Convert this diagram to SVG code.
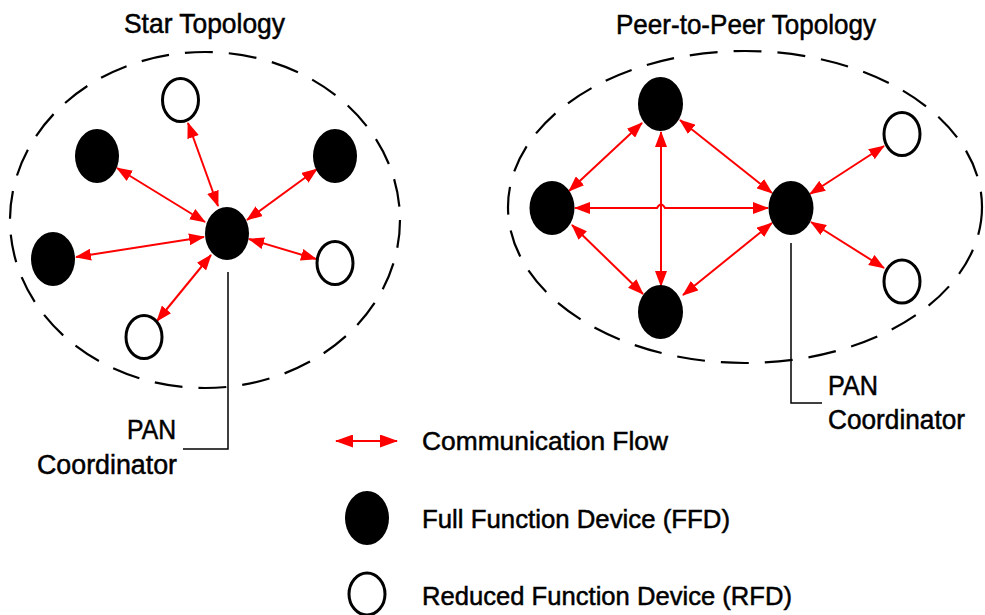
<svg xmlns="http://www.w3.org/2000/svg" width="985" height="615" viewBox="0 0 985 615">
  <style>
    .txt { font-family: "Liberation Sans", Arial, sans-serif; fill: #000; stroke: #000; stroke-width: 0.5; }
    .title { font-size: 28px; }
    .lbl { font-size: 27px; }
    .leg { font-size: 26px; }
    .zone { fill: none; stroke: #000; stroke-width: 2.2; stroke-dasharray: 28 16; }
    .ffd { fill: #000; }
    .rfd { fill: #fff; stroke: #000; stroke-width: 3; }
    .flow { fill: none; stroke: #f00; stroke-width: 2; marker-start: url(#head); marker-end: url(#head); }
    .leader { fill: none; stroke: #000; stroke-width: 1.5; }
  </style>
  <defs>
    <marker id="head" viewBox="0 0 16 12" refX="15" refY="6" markerWidth="16" markerHeight="12" markerUnits="userSpaceOnUse" orient="auto-start-reverse">
      <path d="M0,0 L16,6 L0,12 z" fill="#f00"/>
    </marker>
    <marker id="headLg" viewBox="0 0 18 13" refX="17" refY="6.5" markerWidth="18" markerHeight="13" markerUnits="userSpaceOnUse" orient="auto-start-reverse">
      <path d="M0,0 L18,6.5 L0,13 z" fill="#f00"/>
    </marker>
  </defs>
  <rect width="985" height="615" fill="#fff"/>

  <!-- titles -->
  <text class="txt title" x="124" y="33" textLength="161" lengthAdjust="spacingAndGlyphs">Star Topology</text>
  <text class="txt title" x="616" y="34" textLength="260" lengthAdjust="spacingAndGlyphs">Peer-to-Peer Topology</text>

  <!-- network boundaries -->
  <ellipse class="zone" cx="205" cy="220" rx="195" ry="168"/>
  <ellipse class="zone" cx="745" cy="207" rx="237" ry="156"/>

  <!-- communication links -->
  <g id="connectors">
    <!-- star -->
    <line class="flow" x1="188" y1="123" x2="218" y2="206"/>
    <line class="flow" x1="117" y1="168" x2="205" y2="222"/>
    <line class="flow" x1="317" y1="169" x2="247" y2="220"/>
    <line class="flow" x1="76" y1="257" x2="204" y2="237"/>
    <line class="flow" x1="316" y1="259" x2="249" y2="239"/>
    <line class="flow" x1="157" y1="321" x2="211" y2="255"/>
    <!-- peer-to-peer -->
    <line class="flow" x1="642" y1="123" x2="569" y2="191"/>
    <line class="flow" x1="680" y1="120" x2="772" y2="193"/>
    <line class="flow" x1="661" y1="132" x2="661" y2="286"/>
    <path class="flow" d="M575,208 L657,208 Q661,201 665,208 L768,208"/>
    <line class="flow" x1="572" y1="225" x2="643" y2="294"/>
    <line class="flow" x1="772" y1="223" x2="683" y2="295"/>
    <line class="flow" x1="884" y1="146" x2="810" y2="194"/>
    <line class="flow" x1="884" y1="268" x2="811" y2="222"/>
    <!-- coordinator leaders -->
    <polyline class="leader" points="228,272 228,449 183,449"/>
    <polyline class="leader" points="791,243 791,403 822,403"/>
  </g>

  <!-- star topology devices -->
  <g id="star-coordinator"><ellipse class="ffd" cx="227" cy="233.5" rx="22" ry="26.5"/></g>
  <g id="star-ffd-upper-left"><ellipse class="ffd" cx="97" cy="156" rx="22" ry="27"/></g>
  <g id="star-ffd-upper-right"><ellipse class="ffd" cx="335" cy="156" rx="22" ry="27"/></g>
  <g id="star-ffd-left"><ellipse class="ffd" cx="53" cy="259" rx="22" ry="27"/></g>
  <g id="star-rfd-top"><ellipse class="rfd" cx="180.5" cy="100" rx="18" ry="21.5"/></g>
  <g id="star-rfd-right"><ellipse class="rfd" cx="335" cy="263" rx="18" ry="21.5"/></g>
  <g id="star-rfd-bottom"><ellipse class="rfd" cx="144" cy="337" rx="18" ry="21.5"/></g>

  <!-- peer-to-peer devices -->
  <g id="p2p-ffd-top"><ellipse class="ffd" cx="660.5" cy="104" rx="22.5" ry="27"/></g>
  <g id="p2p-ffd-left"><ellipse class="ffd" cx="552" cy="208" rx="22.5" ry="27"/></g>
  <g id="p2p-ffd-bottom"><ellipse class="ffd" cx="660.5" cy="312" rx="22.5" ry="27"/></g>
  <g id="p2p-coordinator"><ellipse class="ffd" cx="791" cy="208" rx="22.5" ry="27"/></g>
  <g id="p2p-rfd-top"><ellipse class="rfd" cx="902" cy="134" rx="18" ry="21.5"/></g>
  <g id="p2p-rfd-bottom"><ellipse class="rfd" cx="902" cy="281.5" rx="18" ry="21.5"/></g>

  <!-- coordinator labels -->
  <g id="star-coordinator-label">
    <text class="txt lbl" x="127" y="439" textLength="49" lengthAdjust="spacingAndGlyphs">PAN</text>
    <text class="txt lbl" x="37" y="474" textLength="140" lengthAdjust="spacingAndGlyphs">Coordinator</text>
  </g>
  <g id="p2p-coordinator-label">
    <text class="txt lbl" x="828" y="395" textLength="50" lengthAdjust="spacingAndGlyphs">PAN</text>
    <text class="txt lbl" x="828" y="429" textLength="137" lengthAdjust="spacingAndGlyphs">Coordinator</text>
  </g>

  <!-- legend -->
  <g id="legend">
    <line x1="336" y1="441" x2="397" y2="441" stroke="#f00" stroke-width="2" marker-start="url(#headLg)" marker-end="url(#headLg)"/>
    <text class="txt leg" x="422" y="450" textLength="246" lengthAdjust="spacingAndGlyphs">Communication Flow</text>
    <ellipse class="ffd" cx="367" cy="518" rx="22" ry="27"/>
    <text class="txt leg" x="422" y="528" textLength="308" lengthAdjust="spacingAndGlyphs">Full Function Device (FFD)</text>
    <ellipse class="rfd" cx="367" cy="594" rx="18" ry="21"/>
    <text class="txt leg" x="422" y="605" textLength="370" lengthAdjust="spacingAndGlyphs">Reduced Function Device (RFD)</text>
  </g>
</svg>
